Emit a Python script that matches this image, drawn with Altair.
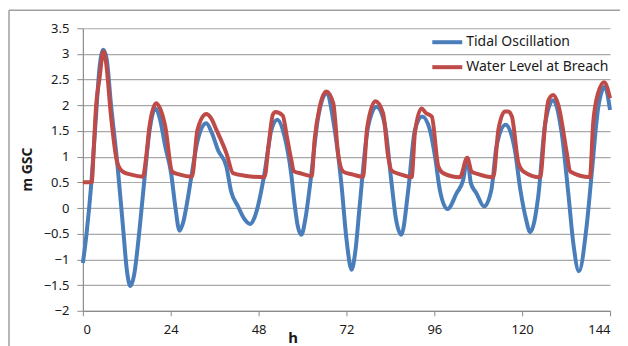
import altair as alt
import pandas as pd

# Tidal Oscillation (hours, m GSC)
tidal_h = [0, 1, 2.3, 3.5, 4.5, 5.6, 6.5, 7.7, 9.5, 11, 12, 13, 14, 15.5, 16.8, 18.2, 19.8, 21, 22.5,
           24.1, 25.3, 26.4, 27.5, 28.6, 29.6, 31.4, 33.7, 35.3, 36.9, 39.2, 40.5, 42.4, 44, 45.7, 46.8,
           47.8, 49.6, 51.5, 53.1, 55.1, 56.9, 57.8, 58.7, 59.7, 60.8, 62, 64.3, 66.5, 68.8, 70.6, 72,
           73.4, 74.5, 75.6, 77.9, 80.2, 82.4, 84.3, 85.5, 87, 88.9, 90.7, 92.7, 94.8, 96.2, 97.5, 99.6,
           102.1, 103.9, 105, 106, 107.5, 109.6, 111.6, 113, 115.5, 118, 119.5, 121, 122.2, 124.4, 126.3,
           128.5, 130.8, 132.6, 134, 135.5, 137.6, 139, 140.8, 142.6, 144]
tidal_v = [-1.07, -0.5, 0.48, 1.7, 2.7, 3.08, 2.9, 2.0, 0.8, -0.4, -1.2, -1.52, -1.3, -0.4, 0.55, 1.5, 1.94,
           1.75, 1.2, 0.68, 0.0, -0.44, -0.25, 0.16, 0.6, 1.33, 1.65, 1.45, 1.13, 0.81, 0.32, 0.03, -0.2,
           -0.31, -0.2, 0.03, 0.67, 1.52, 1.72, 1.39, 0.67, 0.1, -0.35, -0.52, -0.2, 0.42, 1.78, 2.23, 1.52,
           0.48, -0.6, -1.2, -0.8, 0.03, 1.58, 1.97, 1.65, 0.5, -0.2, -0.52, 0.36, 1.52, 1.78, 1.52, 1.0,
           0.36, -0.02, 0.29, 0.55, 0.97, 0.48, 0.29, 0.03, 0.36, 1.2, 1.62, 1.13, 0.36, -0.2, -0.47, 0.23,
           1.65, 2.1, 1.46, 0.29, -0.7, -1.23, -0.36, 0.67, 1.97, 2.36, 1.91]

# Water Level at Breach (hours, m GSC)
breach_h = [0, 2.4, 3.0, 3.6, 4.5, 5.6, 6.3, 7.7, 9.4, 10.9, 13.2, 16.4, 17.3, 18.2, 20, 21, 22.5, 24.4,
            26.5, 29.8, 31.3, 33.7, 35, 36.5, 39.2, 41, 44.2, 49.6, 50.7, 51.9, 52.6, 54.6, 55.7, 56.9,
            57.6, 59.7, 62.5, 63.3, 64.7, 66.5, 68.4, 69.7, 71.1, 73.8, 76.5, 77.7, 79.9, 82, 83.4, 84.3,
            87, 89.8, 90.7, 92.5, 93.7, 95.3, 97.1, 98.4, 103, 105, 106.2, 108, 112.1, 113.5, 115.3, 116.2,
            117.2, 119, 120.4, 124.9, 126.3, 127.2, 128.5, 129.9, 132.2, 133.1, 138.5, 139.4, 140.7, 142.4,
            144]
breach_v = [0.5, 0.5, 1.2, 1.98, 2.5, 3.05, 2.85, 1.78, 0.88, 0.71, 0.65, 0.61, 1.0, 1.59, 2.04, 1.95,
            1.59, 0.71, 0.65, 0.61, 1.52, 1.83, 1.75, 1.52, 1.07, 0.68, 0.63, 0.6, 1.2, 1.82, 1.87, 1.8,
            1.4, 0.95, 0.72, 0.67, 0.62, 1.33, 1.97, 2.27, 2.04, 1.07, 0.71, 0.65, 0.61, 1.58, 2.08, 1.85,
            1.0, 0.73, 0.65, 0.6, 1.46, 1.94, 1.85, 1.78, 0.81, 0.68, 0.6, 0.98, 0.71, 0.66, 0.6, 1.52,
            1.88, 1.88, 1.78, 0.87, 0.71, 0.6, 1.65, 2.1, 2.2, 2.0, 1.07, 0.71, 0.6, 1.65, 2.23, 2.45, 2.14]

series_names = ["Tidal Oscillation", "Water Level at Breach"]
series_colors = ["#4A7EBB", "#BE4B48"]
x_ticks = [0, 24, 48, 72, 96, 120, 144]
y_ticks = [-2, -1.5, -1, -0.5, 0, 0.5, 1, 1.5, 2, 2.5, 3, 3.5]

df = pd.concat([
    pd.DataFrame({"h": tidal_h, "v": tidal_v, "s": series_names[0], "o": 0}),
    pd.DataFrame({"h": breach_h, "v": breach_v, "s": series_names[1], "o": 1}),
])

FONT = "Noto Sans"

lines = alt.Chart(df).mark_line(strokeWidth=4, interpolate="monotone").encode(
    x=alt.X("h:Q", scale=alt.Scale(domain=[0, 144], nice=False),
            axis=alt.Axis(values=x_ticks, title="h", grid=False, tickSize=5, labelPadding=8,
                          titleX=210, titleY=32, titleBaseline="alphabetic", titleAlign="center",
                          titleFontWeight="bold", titleFontSize=15)),
    y=alt.Y("v:Q", scale=alt.Scale(domain=[-2, 3.5], nice=False, zero=False),
            axis=alt.Axis(values=y_ticks, title="m GSC", grid=True, tickSize=6, labelPadding=8,
                          titleX=-51, titleY=141, titleAlign="center", titleBaseline="alphabetic",
                          titleFontWeight="bold", titleFontSize=14, format="~g")),
    color=alt.Color("s:N", scale=alt.Scale(domain=series_names, range=series_colors),
                    legend=alt.Legend(title=None, orient="none", legendX=348, legendY=-3,
                                      symbolType="stroke", symbolStrokeWidth=4, symbolSize=900,
                                      labelFontSize=14, labelOffset=2, rowPadding=0, padding=0,
                                      labelFont=FONT, labelColor="#1a1a1a")),
    detail="o:O",
    order="o:Q",
)

frame = alt.Chart(pd.DataFrame({"a": [0]})).mark_rule(color="#a0a0a0", strokeWidth=1.5).encode(
    x=alt.value(-74), x2=alt.value(600), y=alt.value(-18)
)
frame_left = alt.Chart(pd.DataFrame({"a": [0]})).mark_rule(color="#a0a0a0", strokeWidth=1.5).encode(
    x=alt.value(-74), y=alt.value(-18), y2=alt.value(400)
)

chart = alt.layer(frame, frame_left, lines).properties(
    width=528, height=283,
    autosize=alt.AutoSizeParams(type="none"),
    padding={"left": 75, "top": 20, "right": 10, "bottom": 40},
    background="white",
).configure_view(stroke=None).configure_axis(
    labelFont=FONT, titleFont=FONT, labelFontSize=13, labelColor="#1a1a1a", titleColor="#1a1a1a",
    gridColor="#a8a8a8", gridWidth=1.2, domainColor="#8c8c8c", tickColor="#8c8c8c", domainWidth=1.2,
)

chart.save("out.html", embed_options={"renderer": "svg", "actions": False})
